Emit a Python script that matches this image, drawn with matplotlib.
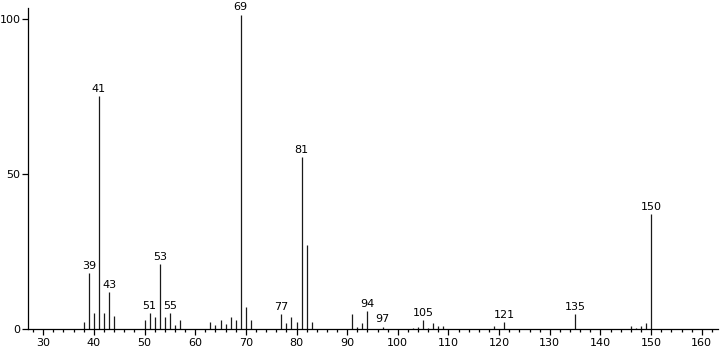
import matplotlib
matplotlib.use("Agg")
import matplotlib.pyplot as plt
from matplotlib.ticker import MultipleLocator

# m/z values and relative intensities
mz = [38, 39, 40, 41, 42, 43, 44,
      50, 51, 52, 53, 54, 55, 56, 57,
      63, 64, 65, 66, 67, 68, 69, 70, 71,
      77, 78, 79, 80, 81, 82, 83,
      91, 92, 93, 94, 97, 103, 104,
      105, 106, 107, 108, 109, 119, 121,
      135, 146, 147, 148, 149, 150]
intensity = [2.3, 18.1, 5.1, 75.0, 5.1, 12.1, 4.2,
             3.0, 5.1, 4.0, 20.9, 4.0, 5.1, 1.3, 3.0,
             2.3, 1.3, 3.0, 1.6, 4.0, 3.0, 101.4, 7.3, 3.0,
             5.0, 2.1, 4.0, 2.4, 55.4, 27.2, 2.4,
             5.0, 0.9, 2.1, 6.0, 0.9, 0.4, 0.6,
             3.0, 0.3, 2.1, 1.1, 1.0, 1.0, 2.2,
             4.9, 1.0, 0.4, 1.0, 2.1, 37.2]
labelled = [39, 41, 43, 51, 53, 55, 69, 77, 81, 94, 97, 105, 121, 135, 150]

fig = plt.figure(figsize=(7.2, 3.52), dpi=100)
ax = fig.add_axes([0.0382, 0.0645, 0.959, 0.9128])

ax.vlines(mz, 0, intensity, color="#1a1a1a", lw=0.9)
for m, h in zip(mz, intensity):
    if m in labelled:
        ax.annotate(str(m), (m, h), xytext=(0, 1.5), textcoords="offset points",
                    ha="center", va="bottom", fontsize=8, color="black")

ax.set_xlim(26.9, 163.2)
ax.set_ylim(0, 103.5)
ax.xaxis.set_major_locator(MultipleLocator(10))
ax.xaxis.set_minor_locator(MultipleLocator(2))
ax.set_yticks([0, 50, 100])

for side in ("top", "right"):
    ax.spines[side].set_visible(False)
for sp in ax.spines.values():
    sp.set_linewidth(0.9)

ax.tick_params(axis="x", which="major", length=4, width=0.9, pad=2.5, labelsize=8)
ax.tick_params(axis="x", which="minor", length=2, width=0.9)
ax.tick_params(axis="y", which="major", length=4.5, width=0.9, pad=0.5, labelsize=8)

fig.savefig("out.png", dpi=100)
